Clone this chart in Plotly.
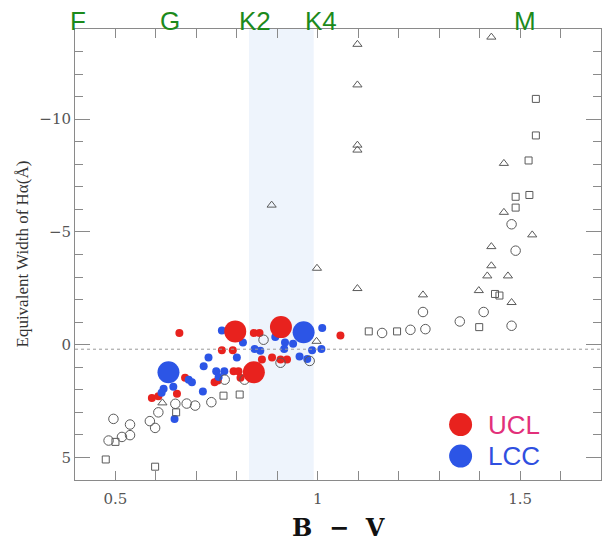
import plotly.graph_objects as go

# ---------------- data (B-V, EW(Halpha) in Angstrom) ----------------
ucl_big_bv = [0.796, 0.909, 0.842]
ucl_big_ew = [-0.59, -0.78, 1.22]
lcc_big_bv = [0.631, 0.965]
lcc_big_ew = [1.22, -0.55]

ucl_bv = [0.658, 0.842, 0.856, 1.056, 0.763, 0.790, 0.862, 0.887, 0.908, 0.924,
          0.753, 0.745, 0.792, 0.804, 0.809, 0.672, 0.652, 0.590, 0.606]
ucl_ew = [-0.52, -0.52, -0.52, -0.41, 0.25, 0.25, 0.66, 0.57, 0.66, 0.66,
          1.59, 1.66, 1.18, 1.18, 1.47, 1.47, 2.17, 2.36, 2.29]

lcc_bv = [0.763, 0.815, 0.895, 0.919, 0.939, 0.917, 1.011, 0.986, 1.009, 0.844,
          0.858, 0.800, 0.730, 0.718, 0.749, 0.769, 0.755, 0.681, 0.689, 0.716,
          0.643, 0.619, 0.614, 0.955, 0.974, 0.646]
lcc_ew = [-0.63, -0.10, -0.34, -0.10, -0.04, 0.19, -0.74, 0.25, 0.19, 0.19,
          0.27, 0.57, 0.57, 0.96, 1.18, 1.18, 1.43, 1.55, 1.67, 2.07,
          1.87, 1.95, 2.13, 0.52, 0.63, 3.29]

circ_bv = [0.866, 0.980, 0.908, 0.770, 0.819, 0.648, 0.676, 0.697, 0.737, 0.606,
           0.585, 0.598, 0.495, 0.536, 0.536, 0.516, 0.483, 1.159, 1.229, 1.266,
           1.260, 1.351, 1.410, 1.479, 1.479, 1.489]
circ_ew = [-0.22, 0.72, 0.80, 1.55, 1.55, 2.62, 2.61, 2.70, 2.55, 3.00,
           3.39, 3.69, 3.29, 3.54, 4.01, 4.09, 4.25, -0.52, -0.66, -0.69,
           -1.45, -1.03, -1.45, -0.84, -5.34, -4.17]

sq_bv = [0.650, 0.500, 0.767, 0.807, 0.476, 0.598, 1.126, 1.196, 1.399, 1.438,
         1.449, 1.489, 1.489, 1.523, 1.521, 1.539, 1.539]
sq_ew = [3.00, 4.31, 2.26, 2.21, 5.09, 5.41, -0.59, -0.59, -0.78, -2.25,
         -2.18, -6.08, -6.56, -6.64, -8.17, -9.28, -10.90]

tri_bv = [0.616, 0.997, 1.098, 0.998, 0.886, 1.098, 1.098, 1.098, 1.098, 1.429,
          1.460, 1.460, 1.530, 1.429, 1.429, 1.419, 1.470, 1.260, 1.398, 1.479]
tri_ew = [2.58, -0.15, -2.49, -3.39, -6.19, -8.63, -8.85, -11.52, -13.32, -13.64,
          -8.04, -5.87, -4.87, -4.35, -3.50, -3.05, -3.05, -2.21, -2.40, -1.87]

spectral_labels = ["F", "G", "K2", "K4", "M"]
spectral_bv = [0.408, 0.634, 0.844, 1.008, 1.512]
band_bv = [0.83, 0.99]
ref_line_ew = 0.2

x_tickvals = [0.5, 1.0, 1.5]
x_ticktext = ["0.5", "1", "1.5"]
y_tickvals = [-10, -5, 0, 5]
y_ticktext = ["\u221210", "\u22125", "0", "5"]

legend_names = ["UCL", "LCC"]
legend_bv = [1.353, 1.353]
legend_ew = [3.54, 4.94]
legend_text_bv = 1.415

x_title = "B \u00a0\u2212\u00a0 V"
y_title = "Equivalent Width of H\u03b1(\u00c5)"

# ---------------- styles ----------------
RED = "#e8221e"
BLUE = "#2c55e6"
GRAY = "#5a5a5a"
AX = "#8a8a8a"

fig = go.Figure()

open_line = dict(color=GRAY, width=1)
fig.add_trace(go.Scatter(x=ucl_bv, y=ucl_ew, mode="markers",
                         marker=dict(color=RED, size=8, line=dict(width=0))))
fig.add_trace(go.Scatter(x=lcc_bv, y=lcc_ew, mode="markers",
                         marker=dict(color=BLUE, size=8, line=dict(width=0))))
fig.add_trace(go.Scatter(x=circ_bv, y=circ_ew, mode="markers",
                         marker=dict(symbol="circle-open", color=GRAY, size=9.5, line=open_line)))
fig.add_trace(go.Scatter(x=sq_bv, y=sq_ew, mode="markers",
                         marker=dict(symbol="square-open", color=GRAY, size=7, line=open_line)))
fig.add_trace(go.Scatter(x=tri_bv, y=tri_ew, mode="markers",
                         marker=dict(symbol="triangle-up-open", color=GRAY, size=8, line=open_line)))
fig.add_trace(go.Scatter(x=ucl_big_bv, y=ucl_big_ew, mode="markers",
                         marker=dict(color=RED, size=22, line=dict(width=0))))
fig.add_trace(go.Scatter(x=lcc_big_bv, y=lcc_big_ew, mode="markers",
                         marker=dict(color=BLUE, size=22, line=dict(width=0))))

# shaded K2-K4 band and reference line
fig.add_shape(type="rect", xref="x", yref="paper", x0=band_bv[0], x1=band_bv[1],
              y0=0, y1=1, fillcolor="#eef4fc", line=dict(width=0), layer="below")
fig.add_shape(type="line", xref="paper", yref="y", x0=0, x1=1,
              y0=ref_line_ew, y1=ref_line_ew, line=dict(color="#999999", width=1, dash="dot"))

# spectral type labels
for lab, bv in zip(spectral_labels, spectral_bv):
    fig.add_annotation(x=bv, y=1, xref="x", yref="paper", text=lab, showarrow=False,
                       xanchor="center", yanchor="bottom", yshift=-9,
                       font=dict(family="Liberation Sans, Arial", size=26, color="#1c8a1c"))

# key
legend_cols = [RED, BLUE]
legend_txt_cols = ["#e2307a", "#2f4fe0"]
for name, bv, ew, c, tc in zip(legend_names, legend_bv, legend_ew, legend_cols, legend_txt_cols):
    fig.add_shape(type="circle", xref="x", yref="y", xsizemode="pixel", ysizemode="pixel",
                  xanchor=bv, yanchor=ew, x0=-11.5, x1=11.5, y0=-11.5, y1=11.5,
                  fillcolor=c, line=dict(width=0))
    fig.add_annotation(x=legend_text_bv, y=ew, xref="x", yref="y", text=name, showarrow=False,
                       xanchor="left", yanchor="middle",
                       font=dict(family="Liberation Sans, Arial", size=26, color=tc))

serif = "DejaVu Serif, Liberation Serif, serif"

# axis titles placed relative to the plot frame
fig.add_annotation(x=0.5, y=0, xref="paper", yref="paper", text=x_title, showarrow=False,
                   xanchor="center", yanchor="middle", yshift=-47,
                   font=dict(family=serif, size=24, color="#111111", weight="bold"))
fig.add_annotation(x=0, y=0.5, xref="paper", yref="paper", text=y_title, showarrow=False,
                   xanchor="center", yanchor="middle", xshift=-53, textangle=-90,
                   font=dict(family="Liberation Serif, serif", size=17, color="#333333"))

fig.update_layout(
    width=603, height=544,
    margin=dict(l=75, r=2, t=29, b=64, autoexpand=False),
    paper_bgcolor="white", plot_bgcolor="white",
    showlegend=False,
    xaxis=dict(range=[0.4, 1.7], tickvals=x_tickvals, ticktext=x_ticktext,
               ticks="inside", ticklen=9, tickcolor=AX, tickwidth=1,
               minor=dict(dtick=0.1, tick0=0.4, ticks="inside", ticklen=9, tickcolor=AX),
               showline=True, linecolor=AX, linewidth=1, mirror="allticks",
               showgrid=False, zeroline=False, automargin=False, ticklabelstandoff=5,
               tickfont=dict(family=serif, size=15, color="#555555")),
    yaxis=dict(range=[6, -14], tickvals=y_tickvals, ticktext=y_ticktext,
               ticks="inside", ticklen=15, tickcolor=AX, tickwidth=1,
               minor=dict(dtick=1, tick0=0, ticks="inside", ticklen=8, tickcolor=AX),
               showline=True, linecolor=AX, linewidth=1, mirror="allticks",
               showgrid=False, zeroline=False, automargin=False,
               tickfont=dict(family=serif, size=15, color="#555555")),
)

fig.write_html("out.html", config={"displayModeBar": False},
               post_script="document.body.style.margin='0px';document.body.style.padding='0px';"
                           "document.body.style.overflow='hidden';")
